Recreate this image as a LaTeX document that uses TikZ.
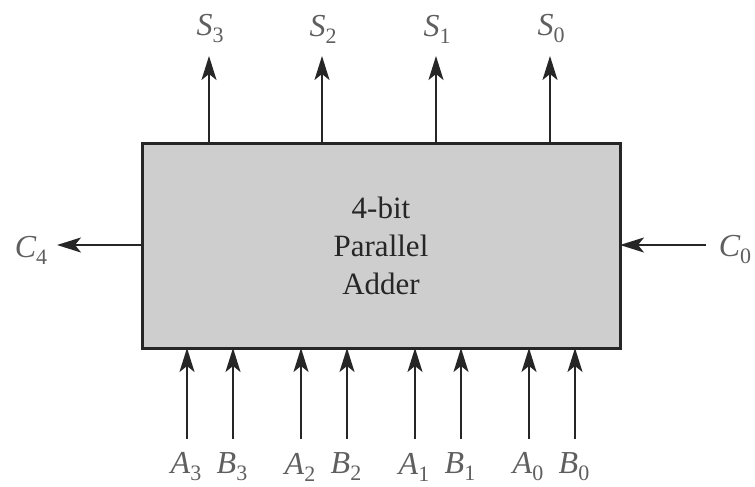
\documentclass[tikz,border=0pt]{standalone}
\usepackage{fontspec}
\setmainfont{Liberation Serif}
\usetikzlibrary{arrows.meta}
\definecolor{boxfill}{RGB}{206,206,206}
\definecolor{lblcol}{RGB}{95,95,95}
\newcommand{\sgl}[2]{{\itshape #1}\raisebox{-7pt}{\fontsize{22}{22}\selectfont #2}}
\begin{document}
\begin{tikzpicture}[x=1pt,y=-1pt,
  sig/.style={line width=2pt,draw=black!85,-{Stealth[length=24pt,width=15pt,inset=6pt]}},
  lbl/.style={text=lblcol,font=\fontsize{32}{34}\selectfont,inner sep=0pt},
  adder/.style={draw=black!85,line width=3pt,fill=boxfill,minimum width=478pt,minimum height=205pt,inner sep=0pt,
     align=center,font=\fontsize{31}{38}\selectfont,text=black!85}]
\useasboundingbox (0,0) rectangle (755,487);
\node[adder] (box) at (381,245.5) {4-bit\\Parallel\\Adder};
% top outputs
\foreach \n/\x/\i in {s3/209/3,s2/322/2,s1/436/1,s0/550/0}{
  \coordinate (\n b) at (\x,143);
  \coordinate (\n t) at (\x,56);
  \node[lbl] (\n) at (\x+1,29) {\sgl{S}{\i}};
  \draw[sig] (\n b) -- (\n t);
}
% carries
\coordinate (c4t) at (57,245);
\coordinate (c4b) at (142,245);
\node[lbl] (c4) at (31,250) {\sgl{C}{4}};
\draw[sig] (c4b) -- (c4t);
\coordinate (c0s) at (706,245);
\coordinate (c0b) at (620,245);
\node[lbl] (c0) at (735,250) {\sgl{C}{0}};
\draw[sig] (c0s) -- (c0b);
% bottom inputs
\foreach \n/\x/\L/\i in {a3/187/A/3,b3/233/B/3,a2/301/A/2,b2/347/B/2,a1/415/A/1,b1/461/B/1,a0/529/A/0,b0/575/B/0}{
  \coordinate (\n s) at (\x,439);
  \coordinate (\n e) at (\x,348);
  \node[lbl] (\n) at (\x-1,467) {\sgl{\L}{\i}};
  \draw[sig] (\n s) -- (\n e);
}
\end{tikzpicture}
\end{document}
